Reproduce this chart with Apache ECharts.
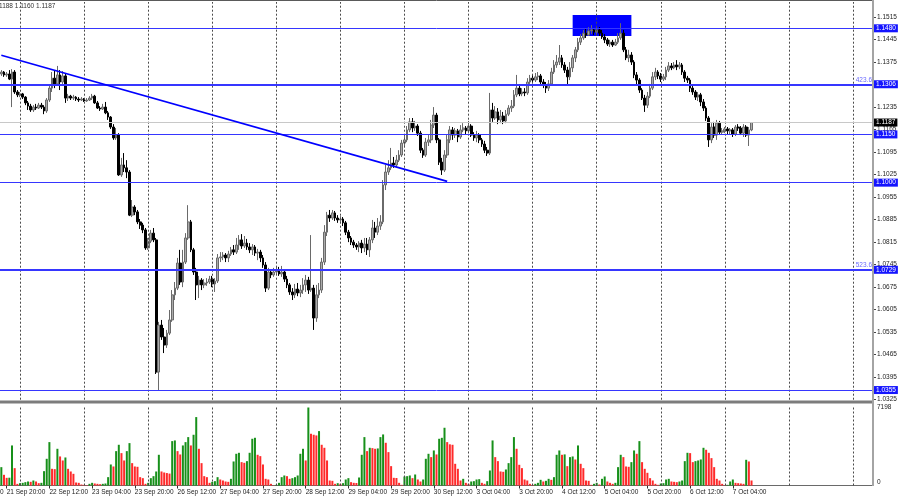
<!DOCTYPE html>
<html><head><meta charset="utf-8">
<script src="https://cdn.jsdelivr.net/npm/echarts/dist/echarts.min.js"></script>
<style>html,body{margin:0;padding:0;background:#fff}#c{width:900px;height:500px}</style>
</head><body><div id="c"></div>
<script>
const opens=[1.1338,1.1344,1.1335,1.1338,1.1322,1.1344,1.1282,1.1273,1.1276,1.1266,1.1248,1.1238,1.1226,1.1235,1.1232,1.1241,1.1235,1.1223,1.1257,1.1294,
1.1325,1.1307,1.1335,1.1313,1.1332,1.1263,1.1269,1.1263,1.1266,1.1260,1.1257,1.1260,1.1254,1.1257,1.1263,1.1269,1.1248,1.1232,1.1229,1.1235,
1.1217,1.1204,1.1173,1.1139,1.1148,1.1024,1.1055,1.1046,1.1033,1.0899,1.0924,1.0909,1.0878,1.0868,1.0853,1.0797,1.0818,1.0843,1.0822,1.0411,
1.0557,1.0520,1.0495,1.0532,1.0573,1.0651,1.0672,1.0750,1.0691,1.0753,1.0828,1.0878,1.0791,1.0722,1.0682,1.0697,1.0682,1.0688,1.0691,1.0700,
1.0685,1.0694,1.0766,1.0769,1.0775,1.0766,1.0778,1.0791,1.0784,1.0806,1.0822,1.0803,1.0812,1.0800,1.0791,1.0800,1.0781,1.0784,1.0766,1.0744,
1.0672,1.0722,1.0713,1.0722,1.0728,1.0716,1.0722,1.0700,1.0682,1.0660,1.0651,1.0669,1.0657,1.0666,1.0682,1.0697,1.0666,1.0672,1.0579,1.0651,
1.0666,1.0753,1.0846,1.0899,1.0890,1.0906,1.0890,1.0884,1.0887,1.0875,1.0846,1.0828,1.0815,1.0806,1.0800,1.0812,1.0797,1.0809,1.0791,1.0822,
1.0859,1.0846,1.0865,1.0878,1.0993,1.1033,1.1046,1.1061,1.1055,1.1070,1.1086,1.1123,1.1133,1.1164,1.1189,1.1170,1.1176,1.1154,1.1101,1.1086,
1.1126,1.1133,1.1179,1.1210,1.1133,1.1064,1.1039,1.1086,1.1133,1.1164,1.1148,1.1161,1.1142,1.1164,1.1170,1.1161,1.1176,1.1148,1.1139,1.1148,
1.1133,1.1120,1.1101,1.1092,1.1226,1.1201,1.1220,1.1195,1.1207,1.1192,1.1213,1.1232,1.1238,1.1273,1.1294,1.1276,1.1282,1.1279,1.1313,1.1325,
1.1319,1.1329,1.1332,1.1313,1.1304,1.1294,1.1307,1.1344,1.1366,1.1375,1.1388,1.1366,1.1350,1.1329,1.1357,1.1388,1.1413,1.1437,1.1450,1.1465,
1.1459,1.1472,1.1475,1.1468,1.1475,1.1465,1.1453,1.1444,1.1431,1.1437,1.1428,1.1437,1.1450,1.1465,1.1413,1.1388,1.1397,1.1375,1.1335,1.1319,
1.1288,1.1263,1.1241,1.1269,1.1294,1.1329,1.1344,1.1332,1.1322,1.1329,1.1350,1.1363,1.1357,1.1366,1.1360,1.1366,1.1344,1.1325,1.1319,1.1294,
1.1282,1.1266,1.1273,1.1251,1.1232,1.1201,1.1133,1.1173,1.1148,1.1185,1.1157,1.1161,1.1167,1.1161,1.1164,1.1151,1.1173,1.1170,1.1154,1.1173,
1.1148,1.1164];
const closes=[1.1344,1.1335,1.1338,1.1322,1.1344,1.1282,1.1273,1.1276,1.1266,1.1248,1.1238,1.1226,1.1235,1.1232,1.1241,1.1235,1.1223,1.1257,1.1294,1.1325,
1.1307,1.1335,1.1313,1.1332,1.1263,1.1269,1.1263,1.1266,1.1260,1.1257,1.1260,1.1254,1.1257,1.1263,1.1269,1.1248,1.1232,1.1229,1.1235,1.1217,
1.1204,1.1173,1.1139,1.1148,1.1024,1.1055,1.1046,1.1033,1.0899,1.0924,1.0909,1.0878,1.0868,1.0853,1.0797,1.0818,1.0843,1.0822,1.0411,1.0557,
1.0520,1.0495,1.0532,1.0573,1.0651,1.0672,1.0750,1.0691,1.0753,1.0828,1.0878,1.0791,1.0722,1.0682,1.0697,1.0682,1.0688,1.0691,1.0700,1.0685,
1.0694,1.0766,1.0769,1.0775,1.0766,1.0778,1.0791,1.0784,1.0806,1.0822,1.0803,1.0812,1.0800,1.0791,1.0800,1.0781,1.0784,1.0766,1.0744,1.0672,
1.0722,1.0713,1.0722,1.0728,1.0716,1.0722,1.0700,1.0682,1.0660,1.0651,1.0669,1.0657,1.0666,1.0682,1.0697,1.0666,1.0672,1.0579,1.0651,1.0666,
1.0753,1.0846,1.0899,1.0890,1.0906,1.0890,1.0884,1.0887,1.0875,1.0846,1.0828,1.0815,1.0806,1.0800,1.0812,1.0797,1.0809,1.0791,1.0822,1.0859,
1.0846,1.0865,1.0878,1.0993,1.1033,1.1046,1.1061,1.1055,1.1070,1.1086,1.1123,1.1133,1.1164,1.1189,1.1170,1.1176,1.1154,1.1101,1.1086,1.1126,
1.1133,1.1179,1.1210,1.1133,1.1064,1.1039,1.1086,1.1133,1.1164,1.1148,1.1161,1.1142,1.1164,1.1170,1.1161,1.1176,1.1148,1.1139,1.1148,1.1133,
1.1120,1.1101,1.1092,1.1226,1.1201,1.1220,1.1195,1.1207,1.1192,1.1213,1.1232,1.1238,1.1273,1.1294,1.1276,1.1282,1.1279,1.1313,1.1325,1.1319,
1.1329,1.1332,1.1313,1.1304,1.1294,1.1307,1.1344,1.1366,1.1375,1.1388,1.1366,1.1350,1.1329,1.1357,1.1388,1.1413,1.1437,1.1450,1.1465,1.1459,
1.1472,1.1475,1.1468,1.1475,1.1465,1.1453,1.1444,1.1431,1.1437,1.1428,1.1437,1.1450,1.1465,1.1413,1.1388,1.1397,1.1375,1.1335,1.1319,1.1288,
1.1263,1.1241,1.1269,1.1294,1.1329,1.1344,1.1332,1.1322,1.1329,1.1350,1.1363,1.1357,1.1366,1.1360,1.1366,1.1344,1.1325,1.1319,1.1294,1.1282,
1.1266,1.1273,1.1251,1.1232,1.1201,1.1133,1.1173,1.1148,1.1185,1.1157,1.1161,1.1167,1.1161,1.1164,1.1151,1.1173,1.1170,1.1154,1.1173,1.1148,
1.1164,1.1187];
const lows=[1.1332,1.1329,1.1329,1.1319,1.1235,1.1276,1.1266,1.1266,1.1260,1.1241,1.1226,1.1220,1.1220,1.1226,1.1229,1.1229,1.1213,1.1217,1.1251,1.1282,
1.1294,1.1301,1.1288,1.1307,1.1248,1.1254,1.1257,1.1257,1.1254,1.1251,1.1254,1.1251,1.1251,1.1254,1.1257,1.1245,1.1229,1.1223,1.1226,1.1213,
1.1195,1.1167,1.1133,1.1133,1.1021,1.1018,1.1033,1.1014,1.0896,1.0893,1.0899,1.0871,1.0856,1.0843,1.0791,1.0791,1.0812,1.0815,1.0405,1.0355,
1.0511,1.0470,1.0486,1.0526,1.0567,1.0635,1.0666,1.0682,1.0675,1.0747,1.0822,1.0784,1.0713,1.0635,1.0641,1.0666,1.0672,1.0679,1.0685,1.0675,
1.0660,1.0688,1.0753,1.0759,1.0753,1.0753,1.0772,1.0775,1.0778,1.0791,1.0794,1.0797,1.0791,1.0781,1.0775,1.0772,1.0759,1.0753,1.0735,1.0660,
1.0666,1.0703,1.0707,1.0713,1.0710,1.0707,1.0691,1.0672,1.0651,1.0635,1.0641,1.0647,1.0644,1.0654,1.0660,1.0654,1.0660,1.0542,1.0567,1.0641,
1.0657,1.0744,1.0834,1.0878,1.0884,1.0881,1.0875,1.0878,1.0865,1.0837,1.0815,1.0806,1.0797,1.0791,1.0784,1.0781,1.0784,1.0775,1.0769,1.0812,
1.0828,1.0837,1.0853,1.0871,1.0977,1.1024,1.1039,1.1046,1.1049,1.1064,1.1080,1.1114,1.1126,1.1157,1.1157,1.1161,1.1145,1.1092,1.1077,1.1080,
1.1114,1.1123,1.1170,1.1123,1.1055,1.1024,1.1033,1.1077,1.1123,1.1133,1.1139,1.1126,1.1136,1.1157,1.1151,1.1154,1.1142,1.1130,1.1126,1.1123,
1.1111,1.1092,1.1083,1.1086,1.1189,1.1195,1.1182,1.1185,1.1182,1.1185,1.1207,1.1220,1.1232,1.1266,1.1269,1.1269,1.1269,1.1273,1.1307,1.1310,
1.1313,1.1319,1.1304,1.1294,1.1279,1.1285,1.1301,1.1338,1.1357,1.1366,1.1357,1.1341,1.1304,1.1319,1.1344,1.1375,1.1406,1.1428,1.1444,1.1450,
1.1456,1.1462,1.1459,1.1462,1.1456,1.1447,1.1434,1.1425,1.1422,1.1422,1.1425,1.1431,1.1444,1.1406,1.1381,1.1375,1.1366,1.1325,1.1304,1.1279,
1.1257,1.1220,1.1232,1.1263,1.1288,1.1319,1.1322,1.1313,1.1316,1.1319,1.1344,1.1350,1.1353,1.1350,1.1353,1.1335,1.1313,1.1310,1.1282,1.1273,
1.1257,1.1254,1.1238,1.1223,1.1192,1.1111,1.1123,1.1139,1.1133,1.1148,1.1151,1.1154,1.1151,1.1151,1.1142,1.1145,1.1161,1.1148,1.1142,1.1142,
1.1114,1.1160];
const highs=[1.1350,1.1347,1.1344,1.1350,1.1353,1.1350,1.1288,1.1282,1.1279,1.1269,1.1254,1.1245,1.1241,1.1245,1.1248,1.1248,1.1241,1.1263,1.1304,1.1344,
1.1350,1.1363,1.1350,1.1347,1.1338,1.1276,1.1273,1.1273,1.1269,1.1266,1.1266,1.1263,1.1263,1.1269,1.1276,1.1273,1.1254,1.1238,1.1245,1.1251,
1.1223,1.1207,1.1182,1.1170,1.1154,1.1077,1.1092,1.1070,1.1039,1.0946,1.0930,1.0915,1.0887,1.0875,1.0859,1.0828,1.0853,1.0859,1.0828,1.0567,
1.0573,1.0548,1.0542,1.0604,1.0666,1.0691,1.0766,1.0791,1.0791,1.0843,1.0930,1.0884,1.0797,1.0735,1.0710,1.0703,1.0700,1.0703,1.0710,1.0710,
1.0703,1.0778,1.0784,1.0784,1.0781,1.0788,1.0800,1.0806,1.0828,1.0837,1.0840,1.0834,1.0825,1.0812,1.0809,1.0806,1.0794,1.0791,1.0775,1.0753,
1.0735,1.0728,1.0735,1.0741,1.0738,1.0741,1.0728,1.0710,1.0688,1.0672,1.0685,1.0688,1.0682,1.0703,1.0713,1.0707,1.0837,1.0682,1.0682,1.0688,
1.0766,1.0868,1.0909,1.0915,1.0915,1.0912,1.0899,1.0896,1.0893,1.0881,1.0853,1.0834,1.0822,1.0812,1.0818,1.0822,1.0828,1.0828,1.0831,1.0884,
1.0878,1.0890,1.0899,1.1008,1.1055,1.1070,1.1108,1.1080,1.1086,1.1101,1.1133,1.1148,1.1176,1.1201,1.1201,1.1192,1.1182,1.1161,1.1108,1.1139,
1.1148,1.1195,1.1235,1.1217,1.1139,1.1077,1.1101,1.1148,1.1176,1.1173,1.1170,1.1167,1.1179,1.1185,1.1176,1.1192,1.1182,1.1157,1.1161,1.1154,
1.1139,1.1130,1.1111,1.1279,1.1248,1.1238,1.1232,1.1226,1.1220,1.1226,1.1241,1.1257,1.1288,1.1335,1.1304,1.1294,1.1294,1.1325,1.1335,1.1335,
1.1341,1.1344,1.1338,1.1322,1.1313,1.1319,1.1357,1.1381,1.1397,1.1428,1.1397,1.1375,1.1360,1.1375,1.1397,1.1422,1.1450,1.1462,1.1475,1.1481,
1.1484,1.1490,1.1481,1.1484,1.1484,1.1475,1.1462,1.1450,1.1444,1.1444,1.1447,1.1465,1.1496,1.1475,1.1422,1.1413,1.1406,1.1381,1.1344,1.1325,
1.1294,1.1273,1.1282,1.1307,1.1344,1.1357,1.1350,1.1341,1.1338,1.1360,1.1375,1.1372,1.1375,1.1381,1.1375,1.1372,1.1350,1.1332,1.1325,1.1304,
1.1288,1.1282,1.1279,1.1260,1.1238,1.1207,1.1185,1.1189,1.1195,1.1192,1.1170,1.1173,1.1173,1.1170,1.1170,1.1179,1.1182,1.1176,1.1182,1.1179,
1.1173,1.1188];
const volumes=[1694,986,708,720,3696,1602,150,215,246,308,370,339,462,370,215,246,1324,2464,4004,1540,
1509,3388,2680,2310,2587,1540,1294,1078,277,246,92,62,31,154,246,185,154,123,154,185,
770,1940,1756,3172,3758,2988,2310,3172,3912,2064,1756,1725,770,678,154,246,678,862,1294,2834,
1294,1200,1150,1100,4096,4158,3172,2864,3696,4004,4466,3696,4682,6314,3388,2064,862,770,246,339,
400,770,554,462,370,339,616,2218,2926,3018,2156,2094,2248,3018,4312,4404,2834,2710,1940,616,
554,154,31,62,246,770,924,862,616,678,770,924,2926,3388,2310,7198,4774,4682,4620,5020,
3758,3480,2310,462,430,154,215,154,215,554,678,308,246,230,739,2834,4466,3172,3480,3450,
3388,3420,4466,4712,3942,3080,1786,708,690,246,62,832,862,924,678,1016,554,370,554,2464,
2926,2618,3234,2864,4312,4400,5328,4004,3800,3758,2002,1540,462,616,246,154,370,400,554,585,
246,154,400,1386,4158,2618,2248,1294,1263,1478,2064,2618,4466,3388,1910,1602,554,462,154,62,
154,246,524,370,431,616,524,770,2834,3234,2834,2870,1786,2618,2680,2402,3696,2002,1602,462,
431,62,154,246,92,616,832,370,246,154,246,1694,2834,2618,1756,1725,2156,3234,2926,4096,
2156,1540,1170,678,462,154,62,185,215,554,616,370,339,308,370,462,2248,3018,2988,2156,
2248,2310,2402,3480,3296,3018,2526,1694,616,462,154,31,62,370,554,246,215,185,154,2372,
2218,462];
const timeLabelIndex=[2,18,34,50,66,82,98,114,130,146,162,178,194,210,226,242,258,274];
const timeLabels=['21 Sep 20:00','22 Sep 12:00','23 Sep 04:00','23 Sep 20:00','26 Sep 12:00','27 Sep 04:00','27 Sep 20:00','28 Sep 12:00','29 Sep 04:00','29 Sep 20:00','30 Sep 12:00','3 Oct 04:00','3 Oct 20:00','4 Oct 12:00','5 Oct 04:00','5 Oct 20:00','6 Oct 12:00','7 Oct 04:00'];
const levelPrices=[1.1480,1.1306,1.1150,1.1000,1.0729,1.0355];
const levelWidths=[1,2,1,1,2,1];
const fiboPrices=[1.1306,1.0729];
const fiboTexts=['423.6','523.6'];
const currentPrice=1.1187;
const trendStart=[0,1.1396], trendEnd=[167,1.1004];
const zoneBars=[214,236], zonePrices=[1.1521,1.1456];
const volumeMax=7198;
const headerText='1188 1.1160 1.1187';

const SLOTS=327, GRID_EVERY=24, GRID_FIRST=7;
const cats=[]; for(let i=0;i<SLOTS;i++) cats.push(String(i));
const labelMap={}; timeLabelIndex.forEach((k,j)=>labelMap[k]=timeLabels[j]);
const candleData=opens.map((o,i)=>[o,closes[i],lows[i],highs[i]]);
const GREEN='#17901a', RED='#ff2a2a';
const volData=volumes.map((v,i)=>({value:v,itemStyle:{color:(i===0||v>volumes[i-1])?GREEN:RED}}));
const vGrid=[]; for(let k=GRID_FIRST;k<SLOTS;k+=GRID_EVERY) vGrid.push({xAxis:k});
const FONT='Liberation Sans, Arial, sans-serif';
const dashStyle={color:'#4a4a4a',type:[2,2],width:1};
const BLUE='#3636ff';

const levelLines=levelPrices.map((p,i)=>({yAxis:p,lineStyle:{color:BLUE,width:levelWidths[i],type:'solid'},
  label:{show:true,position:'end',distance:1,formatter:p.toFixed(4),backgroundColor:'#1414ff',color:'#fff',padding:[1,2,0,2],fontSize:6.5,fontFamily:FONT}}));
const fiboLines=fiboPrices.map((p,i)=>({yAxis:p,lineStyle:{color:BLUE,width:2,type:'solid'},
  label:{show:true,position:'insideEndTop',distance:1,formatter:fiboTexts[i],color:'#6a6aff',fontSize:6.5,fontFamily:FONT}}));
const curLine={yAxis:currentPrice,lineStyle:{color:'#c8c8c8',width:1,type:'solid'},
  label:{show:true,position:'end',distance:1,formatter:currentPrice.toFixed(4),backgroundColor:'#000',color:'#fff',padding:[1,2,0,2],fontSize:6.5,fontFamily:FONT}};

const chart=echarts.init(document.getElementById('c'),null,{renderer:'canvas'});
chart.setOption({
  animation:false,
  backgroundColor:'#fff',
  grid:[{left:0,width:873,top:2,height:397.7,outerBoundsMode:'none'},{left:0,width:873,top:407.5,height:78,outerBoundsMode:'none'}],
  xAxis:[
    {type:'category',gridIndex:0,data:cats,boundaryGap:true,axisLine:{show:false},axisTick:{show:false},axisLabel:{show:false},splitLine:{show:false}},
    {type:'category',gridIndex:1,data:cats,boundaryGap:true,
      axisLine:{show:true,onZero:false,lineStyle:{color:'#6a6a6a',width:1}},
      axisTick:{show:true,alignWithLabel:true,length:3,interval:(i)=>labelMap[i]!==undefined,lineStyle:{color:'#333'}},
      axisLabel:{show:true,interval:(i)=>labelMap[i]!==undefined,formatter:(v,i)=>labelMap[i]||'',align:'left',margin:3,fontSize:6.5,color:'#222',fontFamily:FONT},
      splitLine:{show:false}}
  ],
  yAxis:[
    {type:'value',gridIndex:0,position:'right',min:1.0325,max:1.15618,interval:0.007,scale:true,
      axisLine:{show:false},axisTick:{show:true,length:3,lineStyle:{color:'#444'}},
      axisLabel:{showMaxLabel:false,margin:4,formatter:(v)=>v.toFixed(4),fontSize:6.5,color:'#222',fontFamily:FONT},splitLine:{show:false}},
    {type:'value',gridIndex:1,position:'right',min:0,max:volumeMax,interval:volumeMax,
      axisLine:{show:false},axisTick:{show:false},
      axisLabel:{margin:4,formatter:(v)=>v===0?'{b|0}':'{a|'+v+'}',
        rich:{a:{fontSize:6.5,color:'#222',fontFamily:FONT},b:{fontSize:6.5,color:'#222',fontFamily:FONT,padding:[0,0,6,0]}}},
      splitLine:{show:false}}
  ],
  series:[
    {type:'line',xAxisIndex:0,yAxisIndex:0,data:[],z:1,silent:true,
      markArea:{silent:true,precision:4,itemStyle:{color:'#0000ff',opacity:1},
        data:[[{coord:[zoneBars[0],zonePrices[0]]},{coord:[zoneBars[1],zonePrices[1]]}]]}},
    {type:'candlestick',xAxisIndex:0,yAxisIndex:0,data:candleData,barWidth:2.2,z:3,silent:true,
      itemStyle:{color:'#ababab',color0:'#000',borderColor:'#6a6a6a',borderColor0:'#000',borderWidth:1},
      markLine:{silent:true,precision:4,symbol:['none','none'],animation:false,label:{show:false},
        data:[...vGrid.map(d=>Object.assign({lineStyle:dashStyle},d)),
          curLine,...fiboLines,...levelLines,
          [{coord:trendStart,lineStyle:{color:'#0000ff',width:1.6,type:'solid'}},{coord:trendEnd}]]}},
    {type:'bar',xAxisIndex:1,yAxisIndex:1,data:volData,barWidth:2,silent:true,
      markLine:{silent:true,precision:4,symbol:['none','none'],animation:false,label:{show:false},
        data:vGrid.map(d=>Object.assign({lineStyle:dashStyle},d))}}
  ],
  graphic:[
    {type:'line',shape:{x1:0,y1:0.5,x2:873,y2:0.5},style:{stroke:'#5a5a5a',lineWidth:1},z:10},
    {type:'rect',shape:{x:0,y:400.5,width:873,height:3},style:{fill:'#7c7c7c'},z:10},
    {type:'line',shape:{x1:873,y1:0,x2:873,y2:486},style:{stroke:'#a4a4a4',lineWidth:2},z:10},
    {type:'text',x:-1,y:3,style:{text:headerText,fontSize:6.5,fontFamily:FONT,fill:'#333'},z:10},
    {type:'text',x:0,y:489,style:{text:'0',fontSize:6.5,fontFamily:FONT,fill:'#222'},z:10}
  ]
});
</script></body></html>
